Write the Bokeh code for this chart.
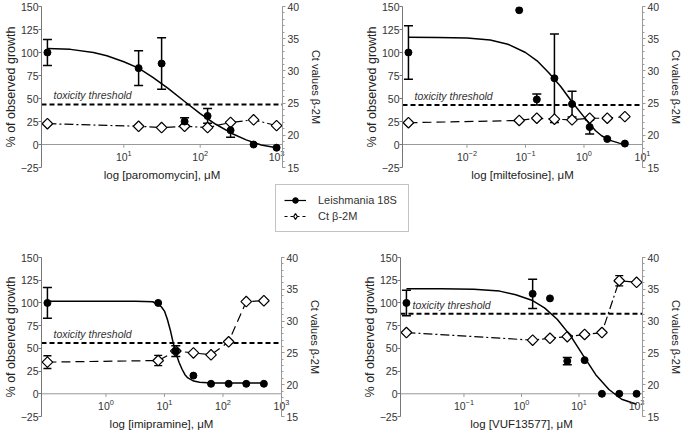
import math
from bokeh.plotting import figure
from bokeh.layouts import column, row
from bokeh.models import (Range1d, LinearAxis, FixedTicker, Whisker, TeeHead,
                          ColumnDataSource, Legend, LegendItem)
from bokeh.core.properties import value
from bokeh.embed import file_html
from bokeh.resources import INLINE

FONT = "Liberation Sans"

# ---------------- data ----------------
# Panel 1 : paromomycin (first point = untreated control, drawn at the axis start)
paro_conc = [1, 15.625, 31.25, 62.5, 125, 250, 500, 1000]
paro_growth = [100, 83, 88, 25, 31, 15.5, 0, -3.5]
paro_err = [14, 19, 28, 4, 8, 7.5, 0, 0]
paro_ct = [21.8, 21.4, 21.2, 21.4, 21.2, 22.0, 22.4, 21.5]
paro_ct_err = [0, 0, 0, 0, 0, 0, 0, 0]
paro_fit_x = [1, 2, 4, 6, 10, 15.6, 24, 38, 62, 100, 160, 260, 400, 630, 1000]
paro_fit_y = [104.3, 103.4, 100, 96.5, 90, 83, 73, 61, 47, 33.6, 22, 12, 5, -0.5, -3.6]
paro_thr = 43.5
paro_xlim = [1, 1000]
paro_xticks = [10, 100, 1000]

# Panel 2 : miltefosine
milt_conc = [0.001, 0.078125, 0.15625, 0.3125, 0.625, 1.25, 2.5, 5]
milt_growth = [100, 146, 49, 72, 44, 19, 6, 1]
milt_err = [29, 0, 6, 48, 14, 7.5, 0, 0]
milt_ct = [21.95, 22.3, 22.65, 22.5, 22.4, 22.65, 22.65, 22.9]
milt_ct_err = [0, 0, 0, 0, 0, 0, 0, 0]
milt_fit_x = [0.001, 0.0032, 0.01, 0.025, 0.05, 0.1, 0.158, 0.25, 0.4, 0.63,
              1.0, 1.26, 1.58, 2.0, 2.8, 4.0, 5.0]
milt_fit_y = [116.5, 116.3, 115.8, 113.5, 109, 100, 91, 78, 63, 46,
              30, 22, 15, 9.5, 4.5, 1.5, 0]
milt_thr = 43
milt_xlim = [0.001, 10]
milt_xticks = [0.01, 0.1, 1, 10]

# Panel 3 : imipramine
imi_conc = [0.1, 7.8125, 15.625, 31.25, 62.5, 125, 250, 500]
imi_growth = [100, 100, 47, 20, 11, 11, 11, 11]
imi_err = [17, 0, 6, 0, 0, 0, 0, 0]
imi_ct = [23.55, 23.8, 25.3, 25.0, 24.7, 26.75, 33.07, 33.2]
imi_ct_err = [1.0, 0.8, 0, 0, 0, 0, 0, 0]
imi_fit_x = [0.1, 1, 3.2, 6.3, 7.9, 8.9, 10, 11.2, 12.6, 14.1, 15.8, 17.8,
             20, 22.4, 25.1, 31.6, 39.8, 63, 500]
imi_fit_y = [101.8, 101.8, 101.8, 101.3, 98, 95.5, 91, 82, 70, 56, 44, 34.5,
             27, 21, 17.5, 14, 12.8, 12, 11.8]
imi_thr = 56
imi_xlim = [0.1, 1000]
imi_xticks = [1, 10, 100, 1000]

# Panel 4 : VUF13577
vuf_conc = [0.01, 1.5625, 3.125, 6.25, 12.5, 25, 50, 100]
vuf_growth = [100, 110, 105, 36, 37, 0, 0, 0]
vuf_err = [14, 16, 0, 4, 0, 0, 0, 0]
vuf_ct = [28.2, 27.0, 27.3, 27.55, 27.9, 28.2, 36.35, 36.1]
vuf_ct_err = [0, 0, 0, 0, 0, 0, 0.8, 0]
vuf_fit_x = [0.01, 0.04, 0.148, 0.417, 0.794, 1.51, 2.51, 4.17, 7.08, 11.7,
             19.5, 33.1, 55, 100]
vuf_fit_y = [115.5, 115.5, 115, 113, 109, 103, 94.6, 82, 64, 42.6,
             21, 4.7, -6, -11.5]
vuf_thr = 88
vuf_xlim = [0.01, 100]
vuf_xticks = [0.1, 1, 10, 100]

growth_ticks = [-25, 0, 25, 50, 75, 100, 125, 150]
ct_ticks = [15, 20, 25, 30, 35, 40]
ct_minor_ticks = list(range(15, 41))
growth_range = [-25, 150]
ct_range = [15, 40]

series_labels = ["Leishmania 18S", "Ct \u03b2-2M"]
growth_title = "% of observed growth"
ct_title = "Ct values \u03b2-2M"


def make_panel(conc, growth, err, ct, ct_err, fit_x, fit_y, thr, xlim, xticks,
               xlabel, width, height, bl, br, bt, bb, pl, pr, ct_dash):
    # widen the log range by a few pixels so markers at the ends are not clipped
    frame_px = width - bl - br
    lo, hi = math.log10(xlim[0]), math.log10(xlim[1])
    span = hi - lo
    inner = frame_px - pl - pr
    r0 = 10 ** (lo - span * pl / inner)
    r1 = 10 ** (hi + span * pr / inner)

    p = figure(width=width, height=height, x_axis_type="log",
               x_range=Range1d(r0, r1),
               y_range=Range1d(growth_range[0], growth_range[1]),
               toolbar_location=None, output_backend="svg",
               min_border_left=bl, min_border_right=br,
               min_border_top=bt, min_border_bottom=bb)
    p.extra_y_ranges = {"ct": Range1d(ct_range[0], ct_range[1])}
    p.grid.visible = False
    p.outline_line_color = None

    # x axis: labels sit just under the zero line, inside the frame
    xa = p.xaxis[0]
    xa.ticker = FixedTicker(ticks=xticks)
    xa.axis_line_color = None
    xa.major_tick_line_color = None
    xa.minor_tick_line_color = None
    xa.major_tick_out = 0
    xa.major_tick_in = 0
    xa.minor_tick_out = 0
    xa.minor_tick_in = 0
    xa.major_label_standoff = -18
    xa.major_label_text_font = FONT
    xa.major_label_text_font_size = "10.5px"
    xa.major_label_text_color = "#333333"
    xa.axis_label = xlabel
    xa.axis_label_standoff = 5
    xa.axis_label_text_font = FONT
    xa.axis_label_text_font_size = "11.5px"
    xa.axis_label_text_font_style = "normal"
    xa.axis_label_text_color = "#222222"

    # left axis
    ya = p.yaxis[0]
    ya.ticker = FixedTicker(ticks=growth_ticks)
    ya.axis_line_color = "#777777"
    ya.major_tick_line_color = "#777777"
    ya.major_tick_out = 3
    ya.major_tick_in = 0
    ya.minor_tick_line_color = None
    ya.major_label_standoff = 0
    ya.major_label_text_font = FONT
    ya.major_label_text_font_size = "10.5px"
    ya.major_label_text_color = "#333333"
    ya.axis_label = growth_title
    ya.axis_label_standoff = 0
    ya.axis_label_text_font = FONT
    ya.axis_label_text_font_size = "12.5px"
    ya.axis_label_text_font_style = "normal"
    ya.axis_label_text_color = "#222222"

    # right axis
    ra = LinearAxis(y_range_name="ct",
                    ticker=FixedTicker(ticks=ct_ticks, minor_ticks=ct_minor_ticks))
    ra.axis_line_color = "#999999"
    ra.major_tick_line_color = "#999999"
    ra.minor_tick_line_color = "#999999"
    ra.major_tick_out = 3
    ra.major_tick_in = 0
    ra.minor_tick_out = 2
    ra.minor_tick_in = 0
    ra.major_label_standoff = 2
    ra.major_label_text_font = FONT
    ra.major_label_text_font_size = "10.5px"
    ra.major_label_text_color = "#333333"
    ra.axis_label = ct_title
    ra.axis_label_standoff = 8
    ra.axis_label_text_font = FONT
    ra.axis_label_text_font_size = "11px"
    ra.axis_label_text_font_style = "normal"
    ra.axis_label_text_color = "#222222"
    p.add_layout(ra, "right")

    # zero line with decade ticks
    p.line(x=[r0, r1], y=[0, 0], line_color="#999999", line_width=1)
    p.segment(x0=xticks, y0=[0] * len(xticks), x1=xticks, y1=[-3.5] * len(xticks),
              line_color="#999999", line_width=1)

    # toxicity threshold
    p.line(x=[r0, r1], y=[thr, thr], line_color="black", line_width=2, line_dash="5 3")
    p.text(x=[r0], y=[thr], text=["toxicity threshold"], x_offset=12, y_offset=-3,
           text_font=value(FONT), text_font_style="italic", text_font_size="10.5px",
           text_color="#333333", text_baseline="bottom", text_align="left")

    # Ct beta-2M series (right axis)
    p.line(x=conc, y=ct, y_range_name="ct", line_color="black", line_width=1.2,
           line_dash=ct_dash)
    cidx = [i for i, e in enumerate(ct_err) if e > 0]
    if cidx:
        csrc = ColumnDataSource(dict(x=[conc[i] for i in cidx],
                                     lo=[ct[i] - ct_err[i] for i in cidx],
                                     hi=[ct[i] + ct_err[i] for i in cidx]))
        p.add_layout(Whisker(source=csrc, base="x", lower="lo", upper="hi",
                             dimension="height", y_range_name="ct",
                             line_color="black", line_width=1.3,
                             upper_head=TeeHead(size=8, line_width=1.3),
                             lower_head=TeeHead(size=8, line_width=1.3)))
    p.scatter(x=conc, y=ct, y_range_name="ct", marker="square", angle=math.pi / 4,
              size=7.5, fill_color="white", line_color="black", line_width=1.2)

    # fitted curve and Leishmania 18S points
    p.line(x=fit_x, y=fit_y, line_color="black", line_width=1.5)
    gidx = [i for i, e in enumerate(err) if e > 0]
    gsrc = ColumnDataSource(dict(x=[conc[i] for i in gidx],
                                 lo=[growth[i] - err[i] for i in gidx],
                                 hi=[growth[i] + err[i] for i in gidx]))
    p.add_layout(Whisker(source=gsrc, base="x", lower="lo", upper="hi",
                         dimension="height", line_color="black", line_width=1.5,
                         upper_head=TeeHead(size=9, line_width=1.5),
                         lower_head=TeeHead(size=9, line_width=1.5)))
    p.scatter(x=conc, y=growth, size=7, fill_color="black", line_color="black")
    return p


f1 = make_panel(paro_conc, paro_growth, paro_err, paro_ct, paro_ct_err, paro_fit_x,
                paro_fit_y, paro_thr, paro_xlim, paro_xticks,
                "log [paromomycin], \u03bcM", 340, 183, 38, 58, 5, 16,
                6, 6, "9 3 2 3")
f2 = make_panel(milt_conc, milt_growth, milt_err, milt_ct, milt_ct_err, milt_fit_x,
                milt_fit_y, milt_thr, milt_xlim, milt_xticks,
                "log [miltefosine], \u03bcM", 345, 183, 62, 41, 6, 16,
                6, 0, "9 5")
f3 = make_panel(imi_conc, imi_growth, imi_err, imi_ct, imi_ct_err, imi_fit_x,
                imi_fit_y, imi_thr, imi_xlim, imi_xticks,
                "log [imipramine], \u03bcM", 340, 183, 38, 59, 6, 14,
                6, 0, "9 5")
f4 = make_panel(vuf_conc, vuf_growth, vuf_err, vuf_ct, vuf_ct_err, vuf_fit_x,
                vuf_fit_y, vuf_thr, vuf_xlim, vuf_xticks,
                "log [VUF13577], \u03bcM", 345, 183, 60, 40, 8, 14,
                6, 6, "9 3 2 3")

# shared legend in its own strip between the two rows
leg = figure(width=685, height=66, x_range=Range1d(0, 1), y_range=Range1d(0, 1),
             toolbar_location=None, output_backend="svg", min_border=0,
             x_axis_location=None, y_axis_location=None)
leg.outline_line_color = None
leg.grid.visible = False
r_line = leg.line(x=paro_conc, y=paro_growth, line_color="black", line_width=1.2,
                  visible=False)
r_dot = leg.scatter(x=paro_conc, y=paro_growth, size=7, fill_color="black",
                    line_color="black", visible=False)
r_cline = leg.line(x=paro_conc, y=paro_ct, line_color="black", line_width=1.2,
                   line_dash="3 3", visible=False)
r_dia = leg.scatter(x=paro_conc, y=paro_ct, marker="diamond", size=12,
                    fill_color="white", line_color="black", line_width=1.2, visible=False)
legend = Legend(items=[LegendItem(label=value(series_labels[0]), renderers=[r_line, r_dot]),
                       LegendItem(label=value(series_labels[1]), renderers=[r_cline, r_dia])],
                location=(275, 17), orientation="vertical",
                glyph_width=22, glyph_height=14, label_height=14, label_standoff=12,
                label_width=82, padding=8, spacing=2, margin=0,
                label_text_font=FONT, label_text_font_size="11px",
                label_text_color="#333333",
                border_line_color="#888888", border_line_width=1,
                background_fill_color="white", background_fill_alpha=1)
leg.add_layout(legend)

layout = column(row(f1, f2), leg, row(f3, f4))

with open("out.html", "w") as fh:
    fh.write(file_html(layout, INLINE))
